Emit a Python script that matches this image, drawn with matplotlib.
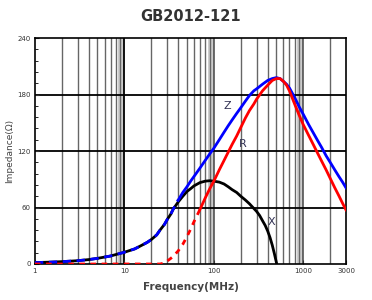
import matplotlib.pyplot as plt
from matplotlib.ticker import FixedLocator, MultipleLocator, NullFormatter

# values (MHz, ohm)
freq = [1, 1.5, 2, 3, 4, 5, 7, 10, 13, 15, 18, 20, 23, 25, 28, 30, 33, 35,
        40, 45, 50, 55, 60, 70, 80, 90, 100, 115, 130, 145, 160, 180, 200,
        225, 250, 280, 300, 350, 400, 450, 500, 550, 600, 650, 700, 800, 900,
        1000, 1150, 1300, 1450, 1600, 1800, 2000, 2250, 2500, 2750, 3000]
z_vals = [1.5, 2, 2.5, 3.5, 4.7, 6, 8.5, 12.5, 16, 19, 23, 26, 31, 36, 42,
          47, 53, 58, 68, 76, 82, 88, 93, 102, 110, 117, 123, 132, 140, 147,
          153, 160, 166, 173, 179, 184, 186, 191, 195, 197, 198, 197, 194,
          191, 187, 177, 167, 159, 148, 139, 131, 124, 115, 108, 100, 93, 87,
          81]
r_vals = [0, 0, 0, 0, 0, 0, 0, 0, 0, 0, 0, 0, 0, 0, 1, 3, 6, 8,
          14, 21, 29, 37, 45, 58, 70, 80, 88, 100, 110, 119, 127, 136, 145,
          155, 163, 170, 175, 184, 190, 195, 197, 197, 194, 190, 184, 170,
          158, 148, 136.5, 126.5, 117.5, 109.5, 100, 91, 81, 72.5, 64.5, 57.5]
x_freq = [1, 1.5, 2, 3, 4, 5, 7, 10, 13, 15, 18, 20, 23, 25, 28, 30, 33, 35,
          40, 45, 50, 55, 60, 70, 80, 90, 100, 115, 130, 145, 160, 180, 200,
          225, 250, 280, 300, 325, 350, 375, 400, 425, 450, 475, 505]
x_vals = [1.5, 2, 2.5, 3.5, 4.7, 6, 8.5, 12.5, 16, 19, 23, 26, 31, 36, 42,
          47, 53, 58, 66, 72, 77, 80, 83, 86.5, 88, 88.5, 88, 87, 85, 82, 79,
          76, 72, 68, 64, 59, 56, 51.5, 46, 41, 35, 28, 20, 11, 0]

xticks = [1, 10, 100, 1000, 3000]
xtick_labels = ['1', '10', '100', '1000', '3000']
yticks = [0, 60, 120, 180, 240]

fig = plt.figure(figsize=(3.72, 3.0), dpi=100)
ax = fig.add_axes([0.094, 0.12, 0.836, 0.753])
ax.set_xscale('log')
ax.set_xlim(1, 3000)
ax.set_ylim(0, 240)

# grid
for dec in [1, 10, 100, 1000]:
    ax.axvspan(dec * 8.5, dec * 10, color='#cccccc', lw=0, zorder=0)
    for m in range(2, 10):
        f = dec * m
        if f < 3000:
            ax.axvline(f, color='#666666', lw=1.0, zorder=1)
ax.axvline(10, color='black', lw=1.3, zorder=1)
ax.axvline(100, color='#444444', lw=1.1, zorder=1)
ax.axvline(1000, color='#444444', lw=1.1, zorder=1)
for y in [60, 120, 180]:
    ax.axhline(y, color='black', lw=1.3, zorder=1)

# curves
ax.plot(x_freq, x_vals, color='black', lw=2.0, zorder=3)
n_low = freq.index(40)
ax.plot(freq[:n_low + 1], z_vals[:n_low + 1], color='blue', lw=2.0,
        ls=(0, (3, 2)), zorder=4)
ax.plot(freq[n_low:], z_vals[n_low:], color='blue', lw=2.0, zorder=4)
n_r = freq.index(70)
ax.plot(freq[:n_r + 1], r_vals[:n_r + 1], color='red', lw=2.0,
        ls=(0, (2, 2)), zorder=5)
ax.plot(freq[n_r:], r_vals[n_r:], color='red', lw=2.0, zorder=5)

# curve labels
ax.text(140, 168, 'Z', fontsize=8, color='#333355', ha='center', va='center')
ax.text(210, 128, 'R', fontsize=8, color='#333355', ha='center', va='center')
ax.text(440, 45, 'X', fontsize=8, color='#333355', ha='center', va='center')

# ticks
ax.xaxis.set_major_locator(FixedLocator(xticks))
ax.set_xticklabels(xtick_labels)
ax.xaxis.set_minor_formatter(NullFormatter())
ax.tick_params(axis='x', which='minor', length=0)
ax.set_yticks(yticks)
ax.yaxis.set_minor_locator(MultipleLocator(12))
ax.tick_params(axis='both', which='major', labelsize=5, length=3,
               direction='in', color='#333333', labelcolor='#333333', pad=3)
ax.tick_params(axis='y', which='minor', length=2, direction='in')
for s in ax.spines.values():
    s.set_linewidth(1.2)

ax.set_title('GB2012-121', fontsize=10.5, fontweight='bold', color='#333333',
             pad=12)
ax.set_xlabel('Frequency(MHz)', fontsize=7.5, fontweight='bold',
              color='#444444', labelpad=6)
ax.set_ylabel('Impedance(Ω)', fontsize=6.5, color='#444444', labelpad=2)

fig.savefig('out.png', dpi=100)
